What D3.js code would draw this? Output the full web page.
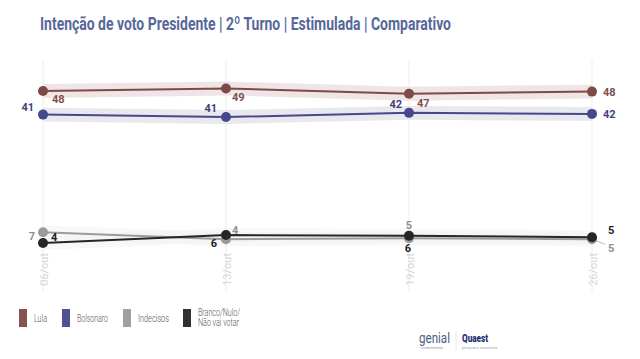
<!DOCTYPE html>
<html><head><meta charset="utf-8">
<script src="https://cdn.jsdelivr.net/npm/d3@7"></script>
<style>body{margin:0;background:#fff;}svg{display:block;font-family:Roboto,"Noto Sans",sans-serif;}</style>
</head><body><svg id="c" width="640" height="359"></svg>
<script>
const dates = ["06/out","13/out","19/out","26/out"];
const lula = [48.1, 48.8, 47.3, 47.9];
const bolsonaro = [41.3, 40.6, 41.8, 41.5];
const indecisos = [7.5, 5.5, 5.8, 5.5];
const branco = [4.4, 6.7, 6.5, 6.1];
const lulaLabels = ["48","49","47","48"];
const bolsonaroLabels = ["41","41","42","42"];
const indecisosLabels = ["7","4","5","5"];
const brancoLabels = ["4","6","6","5"];
const margin = 2; // margem de erro (p.p.)
const legendNames = ["Lula","Bolsonaro","Indecisos",["Branco/Nulo/","Não vai votar"]];

const svg = d3.select("#c");
const x = d3.scalePoint().domain(dates).range([43, 592]);
const y = d3.scaleLinear().domain([0, 55]).range([258.4, 66.9]);

// title
svg.append("text").attr("x",40).attr("y",30).attr("font-size",19).attr("font-weight",700)
  .attr("fill","#56679a").attr("textLength",411).attr("lengthAdjust","spacingAndGlyphs")
  .text("Intenção de voto Presidente | 2º Turno | Estimulada | Comparativo");

// vertical grid
svg.append("g").selectAll("line").data(dates).join("line")
  .attr("x1",d=>x(d)).attr("x2",d=>x(d)).attr("y1",y(57)).attr("y2",292)
  .attr("stroke","#ececec").attr("stroke-width",1);

// x labels
svg.append("g").selectAll("text").data(dates).join("text")
  .attr("transform",d=>`translate(${x(d)+1},253) rotate(-90)`)
  .attr("text-anchor","end").attr("dy","0.35em").attr("font-size",11)
  .attr("fill","#d6d6d6").text(d=>d);

const series = [
  {name:"Lula", v:lula, labels:lulaLabels, color:"#7e4a48", band:"#efe5e5", lab:"#7e4f4c"},
  {name:"Bolsonaro", v:bolsonaro, labels:bolsonaroLabels, color:"#46488d", band:"#e8e8ee", lab:"#3f4280"},
  {name:"Indecisos", v:indecisos, labels:indecisosLabels, color:"#9b9b9b", band:"#f3f3f3", lab:"#8f8f8f"},
  {name:"Branco", v:branco, labels:brancoLabels, color:"#262626", band:"#f3f3f3", lab:"#1e1e1e"}
];

const area = d3.area().x((d,i)=>x(dates[i])).y0(d=>y(d-margin)).y1(d=>y(d+margin));
const line = d3.line().x((d,i)=>x(dates[i])).y(d=>y(d));

const bands = svg.append("g");
series.forEach(s=>{
  const big = s.name==="Lula"||s.name==="Bolsonaro";
  bands.append("path").datum(s.v).attr("d",area).attr("fill",s.band).attr("opacity",big?1:0.6);
});
// leader line at last point for indecisos label
svg.append("line").attr("x1",x(dates[3])).attr("y1",y(indecisos[3]))
  .attr("x2",x(dates[3])+13).attr("y2",y(indecisos[3])+5).attr("stroke","#aaa").attr("stroke-width",0.8);

[series[2],series[3],series[1],series[0]].forEach(s=>{
  svg.append("path").datum(s.v).attr("d",line).attr("fill","none").attr("stroke",s.color).attr("stroke-width",2);
  svg.append("g").selectAll("circle").data(s.v).join("circle")
    .attr("cx",(d,i)=>x(dates[i])).attr("cy",d=>y(d)).attr("r",5).attr("fill",s.color);
});

const offs = {
  "Lula":[[9,12,"start"],[6,13,"start"],[8,13,"start"],[11,4,"start"]],
  "Bolsonaro":[[-9,-4,"end"],[-9,-5,"end"],[-7,-5,"end"],[11,4,"start"]],
  "Indecisos":[[-8,8,"end"],[6,-5,"start"],[0,-9,"middle"],[16,13,"start"]],
  "Branco":[[8,-2,"start"],[-9,12,"end"],[-1,16,"middle"],[16,-3,"start"]]
};
series.forEach(s=>{
  svg.append("g").selectAll("text").data(s.v).join("text")
    .attr("x",(d,i)=>x(dates[i])+offs[s.name][i][0])
    .attr("y",(d,i)=>y(d)+offs[s.name][i][1])
    .attr("text-anchor",(d,i)=>offs[s.name][i][2])
    .attr("font-size",11).attr("font-weight",700).attr("fill",s.lab)
    .text((d,i)=>s.labels[i]);
});

// legend
const lx = [19, 62, 123, 183];
const lw = [13, 31, 31, [42, 41]];
const lg = svg.append("g");
series.forEach((s,i)=>{
  lg.append("rect").attr("x",lx[i]).attr("y",309).attr("width",8).attr("height",18).attr("fill",s.color).attr("opacity",0.95);
  const nm = legendNames[i];
  const t = lg.append("text").attr("font-size",10).attr("fill","#555").attr("font-weight",300).attr("lengthAdjust","spacingAndGlyphs");
  if (Array.isArray(nm)) {
    lg.append("text").attr("font-size",10).attr("fill","#555").attr("font-weight",300)
      .attr("x",lx[i]+15).attr("y",316).attr("textLength",lw[i][0]).attr("lengthAdjust","spacingAndGlyphs").text(nm[0]);
    lg.append("text").attr("font-size",10).attr("fill","#555").attr("font-weight",300)
      .attr("x",lx[i]+15).attr("y",326).attr("textLength",lw[i][1]).attr("lengthAdjust","spacingAndGlyphs").text(nm[1]);
    t.remove();
  } else {
    t.attr("x",lx[i]+15).attr("y",322).attr("textLength",lw[i]).text(nm);
  }
});

// logos
svg.append("text").attr("x",419).attr("y",343).attr("font-size",15).attr("font-weight",400)
  .attr("fill","#4b5c86").attr("textLength",31).attr("lengthAdjust","spacingAndGlyphs").text("genial");
svg.append("text").attr("x",421).attr("y",349).attr("font-size",3.5).attr("fill","#8c95b0").text("investimentos");
svg.append("line").attr("x1",456).attr("x2",456).attr("y1",331).attr("y2",350).attr("stroke","#dde").attr("stroke-width",0.8);
svg.append("text").attr("x",462).attr("y",342).attr("font-size",11.5).attr("font-weight",900)
  .attr("fill","#1f2f75").attr("textLength",26).attr("lengthAdjust","spacingAndGlyphs").text("Quaest");
svg.append("text").attr("x",462).attr("y",349).attr("font-size",3.5).attr("fill","#9aa").text("pesquisa e consultoria");
</script></body></html>
